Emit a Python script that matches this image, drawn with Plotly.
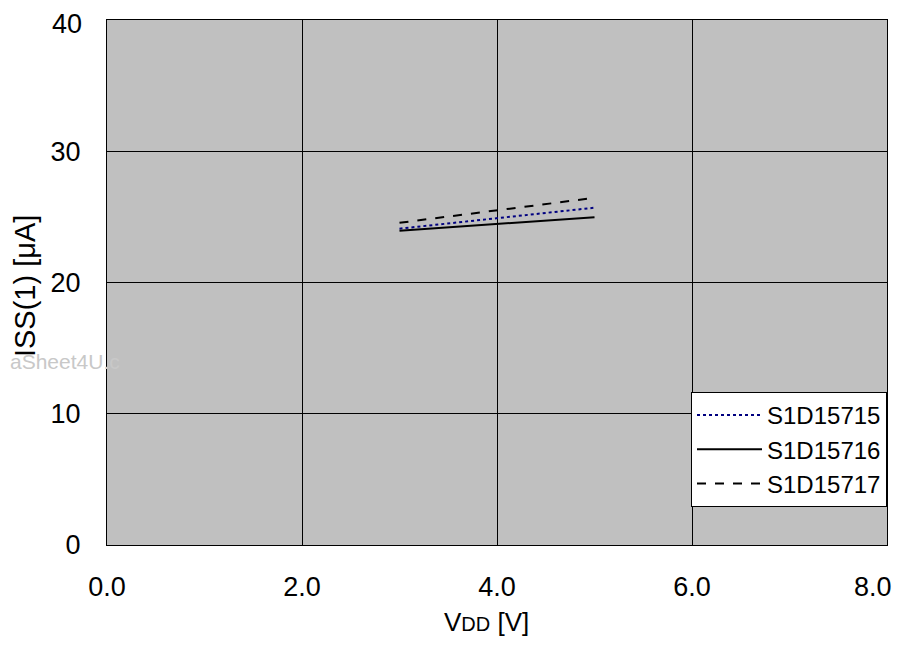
import plotly.graph_objects as go

# supply voltage VDD [V]
vdd = [3.0, 4.0, 5.0]
# ISS(1) [uA] per device
iss_15715 = [24.1, 24.9, 25.7]
iss_15716 = [23.95, 24.45, 24.97]
iss_15717 = [24.55, 25.5, 26.45]

x_ticks = [0, 2, 4, 6, 8]
x_labels = ['0.0', '2.0', '4.0', '6.0', '8.0']
y_ticks = [0, 10, 20, 30, 40]
y_labels = ['0', '10', '20', '30', '40']

fnt = 'Liberation Sans, Arial, sans-serif'

fig = go.Figure()
fig.add_scatter(x=vdd, y=iss_15715, name='S1D15715', mode='lines',
                line=dict(color='#000080', width=2, dash='dot'))
fig.add_scatter(x=vdd, y=iss_15716, name='S1D15716', mode='lines',
                line=dict(color='black', width=2))
fig.add_scatter(x=vdd, y=iss_15717, name='S1D15717', mode='lines',
                line=dict(color='black', width=2, dash='dash'))

# page body has an 8px margin -> figure sized to fit the window exactly
fig.update_layout(
    width=886, height=631,
    margin=dict(l=99, r=7, t=12, b=94),
    paper_bgcolor='white', plot_bgcolor='#c0c0c0',
    font=dict(family=fnt, size=27, color='black'),
    showlegend=True,
    legend=dict(x=1, y=0.0724, xanchor='right', yanchor='bottom',
                bgcolor='white', bordercolor='black', borderwidth=1,
                font=dict(size=24), tracegroupgap=0, itemwidth=65),
    annotations=[
        # watermark, clipped by the plot area in the source
        dict(text='aSheet4U.c', xref='paper', yref='paper',
             x=-99 / 780, y=0.3486, xanchor='left', yanchor='middle',
             showarrow=False, font=dict(size=21, color='#c8c8c8')),
        # end tick labels, pulled inside the page edge
        dict(text=x_labels[-1], xref='x', yref='paper', x=x_ticks[-1],
             y=-0.0800, xanchor='right', yanchor='middle', xshift=7,
             showarrow=False, font=dict(size=27)),
        dict(text=y_labels[-1], xref='paper', yref='y', x=0,
             y=y_ticks[-1], xanchor='right', yanchor='middle', xshift=-23,
             yshift=-4, showarrow=False, font=dict(size=27)),
        dict(text="V<span style='font-size:20px'>DD</span> [V]",
             xref='paper', yref='paper', x=0.487, y=-0.1785,
             xanchor='center', yanchor='bottom', showarrow=False,
             font=dict(size=26)),
        dict(text='ISS(1) [μA]', xref='paper', yref='paper',
             x=-0.1051, y=0.4933, xanchor='center', yanchor='middle',
             textangle=-90, showarrow=False, font=dict(size=29)),
    ],
)
fig.update_xaxes(range=[0, 8], tickvals=x_ticks,
                 ticktext=x_labels[:-1] + [''],
                 showgrid=True, gridcolor='black', gridwidth=1,
                 showline=True, linecolor='black', linewidth=1, mirror=True,
                 zeroline=False, ticks='', ticklabelstandoff=18,
                 ticklabeloverflow='allow', automargin=False)
fig.update_yaxes(range=[0, 40], tickvals=y_ticks,
                 ticktext=y_labels[:-1] + [''],
                 showgrid=True, gridcolor='black', gridwidth=1,
                 showline=True, linecolor='black', linewidth=1, mirror=True,
                 zeroline=False, ticks='', ticklabelstandoff=20,
                 ticklabeloverflow='allow', automargin=False)

fig.write_html('out.html')
